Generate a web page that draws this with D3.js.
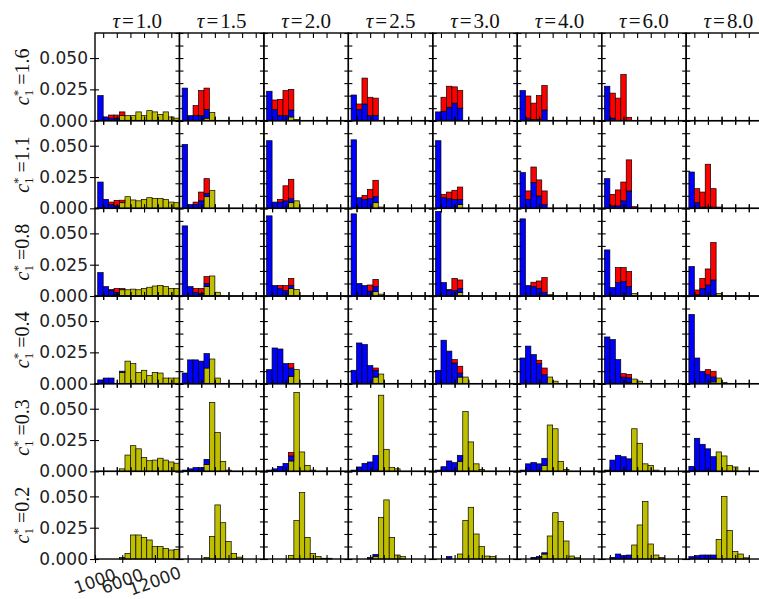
<!DOCTYPE html>
<html><head><meta charset="utf-8">
<script src="https://cdn.jsdelivr.net/npm/d3@7"></script>
<style>body{margin:0;background:#fff}svg{display:block}</style>
</head><body>
<svg id="chart" width="759" height="599"></svg>
<script>
// Grid of stacked histograms: rows are c1* values, columns are tau values.
const tauLabels = ["1.0","1.5","2.0","2.5","3.0","4.0","6.0","8.0"];
const cLabels = ["1.6","1.1","0.8","0.4","0.3","0.2"];
const binStart = 1500, binWidth = 1000, nBins = 15;
const yTickLabels = [0, 0.025, 0.05];
const xTickLabels = [1000, 6000, 12000];
const innerXTicks = [2500, 5000, 7500, 10000, 12500, 15000];
const innerYTicks = [0, 0.01, 0.02, 0.03, 0.04, 0.05, 0.06, 0.07];

// Stacked segment heights per panel: [row][column][bin]
const yellowVals = [
  [[0,0,0,0,0.004,0.004,0.004,0.007,0.004,0.008,0.007,0.005,0.007,0.003,0.002],[0,0,0,0,0.002,0.0065],[0,0,0,0,0.003,0.001],[],[],[],[],[]],
  [[0,0,0,0,0.0045,0.0093,0.0067,0.006,0.007,0.0085,0.008,0.008,0.007,0.005,0.0045],[0,0,0,0,0.0093,0.0144],[0,0,0,0,0.0045,0.006],[0,0,0,0,0.0045,0.001],[0,0,0,0,0.003],[],[],[]],
  [[0,0,0,0.001,0.005,0.005,0.0055,0.005,0.006,0.007,0.008,0.0085,0.0075,0.006,0.006],[0,0,0,0,0.0075,0.016,0.003],[0,0,0,0,0.006,0.0053],[0,0,0,0,0.0035,0.0015],[0,0,0,0,0.0027],[],[0,0,0,0,0,0.002],[0,0,0,0,0,0.002]],
  [[0,0,0,0,0.009,0.018,0.016,0.009,0.0107,0.0064,0.009,0.0085,0.0045,0.0045,0.0045],[0,0,0,0,0.0125,0.0197,0.0045],[0,0,0,0,0.0059,0.0112],[0,0,0,0,0.0053,0.0077],[0,0,0,0,0.0053,0.0053],[0,0,0,0,0,0.0053,0.002],[0,0,0,0,0.001,0.0037,0.002],[0,0,0,0,0.0014,0.0045,0.001]],
  [[0,0,0,0,0.002,0.013,0.0205,0.018,0.011,0.0085,0.009,0.0105,0.009,0.0075,0.0065],[0,0,0,0,0.0056,0.055,0.031,0.008,0.001],[0,0,0,0,0.0083,0.063,0.0155,0.0048,0.001],[0,0,0,0,0.001,0.0608,0.0176,0.003,0.002],[0,0,0,0,0.008,0.0477,0.0235,0.006,0.0016],[0,0,0,0,0.0048,0.037,0.034,0.008,0.0016],[0,0,0,0,0,0.034,0.0224,0.006,0.0048,0.001],[0,0,0,0,0,0.0155,0.0123,0.0048,0.0035]],
  [[0,0,0,0,0.0013,0.0045,0.0192,0.0192,0.0173,0.0152,0.0099,0.0099,0.0085,0.0072,0.0077],[0,0,0,0,0.0013,0.0179,0.0432,0.029,0.0139,0.0045,0.0015],[0,0,0,0,0.0027,0.0307,0.053,0.0173,0.0045,0.0019,0.0006,0.0006],[0,0,0,0,0.0022,0.0333,0.0472,0.0173,0.0032,0.002],[0,0,0,0,0.004,0.0307,0.0413,0.02,0.0099,0.0024,0.0019],[0,0,0,0.001,0.004,0.0184,0.037,0.03,0.0144,0.0024,0.001],[0,0,0,0,0.0005,0.0112,0.0272,0.0459,0.012,0.0032,0.0013],[0,0,0,0,0,0.0157,0.0499,0.0227,0.0059,0.004,0.001]]
];
const blueVals = [
  [[0.020,0.003,0.002,0.002],[0.026,0.004,0.004,0.004,0.007],[0.0235,0.009,0.004,0.004,0.0055],[0.0205,0.009,0.0133,0.004,0.004],[0.007,0.0075,0.0107,0.014,0.010],[0.024,0.002,0.001,0.001,0.0085],[0.0275,0.002],[]],
  [[0.021,0.0072,0.003,0.002],[0.051,0.003,0.003,0.006,0.0027],[0.054,0.005,0.005,0.006,0.0032],[0.0547,0.0085,0.0072,0.0077,0.0048],[0.054,0.0085,0.0077,0.0072,0.0042],[0.0285,0.0072,0.0205,0.0099,0.003],[0.0237,0.002,0.002,0.006,0.0139],[0.029,0.0045,0.001,0.001,0.001]],
  [[0.0187,0.0075,0.0043,0.002],[0.056,0.0075,0.003,0.002,0.0025],[0.064,0.0083,0.006,0.0043,0.0023],[0.0656,0.01,0.0083,0.004,0.004],[0.0675,0.0107,0.0043,0.0043,0.0033],[0.0616,0.0083,0.0075,0.006,0.003],[0.0368,0.0067,0.0107,0.0115,0.0075],[0.0235,0.001,0.006,0.0088,0.0128]],
  [[0.003,0.0045,0.0045,0,0.001],[0.0085,0.019,0.019,0.018,0.0115],[0.0112,0.0285,0.0277,0.016,0.0066],[0.0107,0.0325,0.0312,0.0144,0.0054],[0.0107,0.0347,0.026,0.0165,0.0032],[0.0205,0.03,0.0232,0.016,0.0072],[0.0373,0.0352,0.0192,0.0053,0.0037],[0.0552,0.0205,0.0099,0.0072,0.004]],
  [[],[0.001,0.002,0.003,0.003,0.004],[0.001,0.002,0.004,0.0064,0.004],[0.001,0.0035,0.0064,0.0075,0.0118],[0.001,0.0037,0.0083,0.007,0.0048],[0.001,0.006,0.007,0.006,0.0056],[0.001,0.009,0.0128,0.0117,0.01],[0.004,0.0264,0.0216,0.018,0.0117]],
  [[],[],[],[0,0,0,0.0013,0.0015],[0,0,0.002],[0,0,0.0013,0.001,0.001],[0,0.0013,0.004,0.0027,0.0027],[0.0019,0.0027,0.0032,0.0032,0.0032]]
];
const redVals = [
  [[0,0,0.0025,0.0025,0.003],[0,0,0.008,0.020,0.017],[0,0.0075,0.013,0.020,0.0165],[0,0.0043,0.0207,0.0147,0.014],[0,0.0112,0.0168,0.013,0.014],[0,0.0177,0.013,0.019,0.0195],[0,0.020,0.018,0.0368,0.0027],[]],
  [[0,0,0.002,0.0044,0.002],[0,0,0.002,0.007,0.0117],[0,0,0.0022,0.012,0.0155],[0,0,0.0032,0.0075,0.0131],[0,0.0027,0.0053,0.0072,0.0098],[0,0.0067,0.0125,0.0128,0.0109],[0,0.0092,0.0127,0.015,0.0248,0.0013],[0,0.0112,0.012,0.0342,0.0147,0.001]],
  [[0,0,0.001,0.003,0.001],[0,0,0.003,0.004,0.0055],[0,0,0.0023,0.004,0.0057],[0,0,0,0.0048,0.0058],[0,0,0.001,0.0097,0.0068],[0,0,0.0035,0.006,0.0117,0.001],[0,0,0.012,0.0112,0.012],[0,0.0038,0.008,0.0128,0.0299]],
  [[],[],[0,0,0,0,0.0035],[0,0,0,0,0.0018],[0,0,0,0.0027,0.0054],[0,0,0,0.0027,0.0053],[0,0,0,0.0027,0.0027],[0,0,0,0.004,0.0045]],
  [[],[],[0,0,0,0,0.0027],[],[],[],[],[]],
  [[],[],[],[],[],[],[],[]]
];

const svg = d3.select("#chart");
const pw = 84.45, ph = 87.67, left0 = 95, top0 = 33;
const x = d3.scaleLinear().domain([1000, 16500]).range([0, pw]);
const y = d3.scaleLinear().domain([0, 0.07]).range([ph, 0]);
const colors = {yellow: "#bfbf00", blue: "#0000ff", red: "#ff0000"};
const stack = d3.stack().keys(["yellow", "blue", "red"]);
const pad = a => d3.range(nBins).map(i => a[i] || 0);
const tickFont = "'DejaVu Sans', sans-serif";
const mathFont = "'Liberation Serif', 'DejaVu Serif', serif";

const grid = svg.append("g");

cLabels.forEach((cl, r) => {
  tauLabels.forEach((tl, c) => {
    const g = grid.append("g")
      .attr("transform", `translate(${left0 + c * pw},${top0 + r * ph})`);
    const ys = pad(yellowVals[r][c]), bs = pad(blueVals[r][c]), rs = pad(redVals[r][c]);
    const table = d3.range(nBins).map(i => ({x0: binStart + i * binWidth, yellow: ys[i], blue: bs[i], red: rs[i]}));
    stack(table).forEach(layer => {
      g.selectAll(null)
        .data(layer.filter(d => d[1] - d[0] > 0))
        .join("rect")
        .attr("x", d => x(d.data.x0))
        .attr("width", x(binStart + binWidth) - x(binStart))
        .attr("y", d => y(d[1]))
        .attr("height", d => y(d[0]) - y(d[1]))
        .attr("fill", colors[layer.key])
        .attr("stroke", "#000")
        .attr("stroke-width", 0.7);
    });

    // tick marks on the spines (they cross the shared borders)
    const leftAxis = d3.axisLeft(y).tickValues(c === 0 ? yTickLabels : innerYTicks).tickSizeInner(4).tickSizeOuter(0).tickFormat("");
    const la = g.append("g").call(leftAxis);
    la.select(".domain").remove();
    la.selectAll(".tick line").attr("x1", 4).attr("x2", c === 0 ? -5 : -4).attr("stroke-width", 1.1);

    if (c === tauLabels.length - 1) {
      const ra = g.append("g").attr("transform", `translate(${pw},0)`)
        .call(d3.axisRight(y).tickValues(innerYTicks).tickSizeInner(4).tickSizeOuter(0).tickFormat(""));
      ra.select(".domain").remove();
      ra.selectAll(".tick line").attr("x1", -4).attr("x2", 4).attr("stroke-width", 1.1);
    }

    const ta = g.append("g")
      .call(d3.axisTop(x).tickValues(innerXTicks).tickSizeInner(4).tickSizeOuter(0).tickFormat(""));
    ta.select(".domain").remove();
    ta.selectAll(".tick line").attr("y1", r === 0 ? 0 : 4).attr("y2", r === 0 ? 5 : -4).attr("stroke-width", 1.1);

    const isCorner = (r === cLabels.length - 1 && c === 0);
    const ba = g.append("g").attr("transform", `translate(0,${ph})`)
      .call(d3.axisBottom(x).tickValues(isCorner ? xTickLabels : innerXTicks).tickSizeInner(4).tickSizeOuter(0).tickFormat(""));
    ba.select(".domain").remove();
    ba.selectAll(".tick line").attr("y1", -4).attr("y2", 4).attr("stroke-width", 1.1);

    g.append("rect")
      .attr("width", pw).attr("height", ph)
      .attr("fill", "none").attr("stroke", "#000").attr("stroke-width", 1.4);

    if (c === 0) {
      g.append("g").selectAll("text").data(yTickLabels).join("text")
        .attr("x", -7).attr("y", d => y(d)).attr("dy", "0.36em")
        .attr("text-anchor", "end")
        .attr("font-family", tickFont).attr("font-size", 17).attr("fill", "#222")
        .text(d => d3.format(".3f")(d));
    }
    if (isCorner) {
      g.append("g").selectAll("text").data(xTickLabels).join("text")
        .attr("transform", d => `translate(${x(d)},${ph + 22}) rotate(-20)`)
        .attr("text-anchor", "middle").attr("dy", "0.35em")
        .attr("font-family", tickFont).attr("font-size", 17).attr("fill", "#222")
        .text(d => d);
    }
  });
});

// column titles: tau values
svg.append("g").selectAll("text").data(tauLabels).join("text")
  .attr("x", (d, i) => left0 + i * pw + pw / 2)
  .attr("y", 28)
  .attr("text-anchor", "middle")
  .attr("font-family", mathFont).attr("font-size", 21).attr("fill", "#111")
  .each(function (d) {
    const t = d3.select(this);
    t.append("tspan").attr("font-style", "italic").text("τ");
    t.append("tspan").attr("dx", 2).text("=");
    t.append("tspan").attr("dx", 2).text(d);
  });

// row titles: c1* values
svg.append("g").selectAll("text").data(cLabels).join("text")
  .attr("transform", (d, i) => `translate(29,${top0 + i * ph + ph / 2}) rotate(-90)`)
  .attr("text-anchor", "middle")
  .attr("font-family", mathFont).attr("font-size", 20).attr("fill", "#111")
  .each(function (d) {
    const t = d3.select(this);
    t.append("tspan").attr("font-style", "italic").text("c");
    t.append("tspan").attr("font-size", 13).attr("dy", 4).text("1");
    t.append("tspan").attr("font-size", 13).attr("dx", -6.5).attr("dy", -11).text("*");
    t.append("tspan").attr("dx", 5).attr("dy", 7).text("=" + d);
  });
</script>
</body></html>
